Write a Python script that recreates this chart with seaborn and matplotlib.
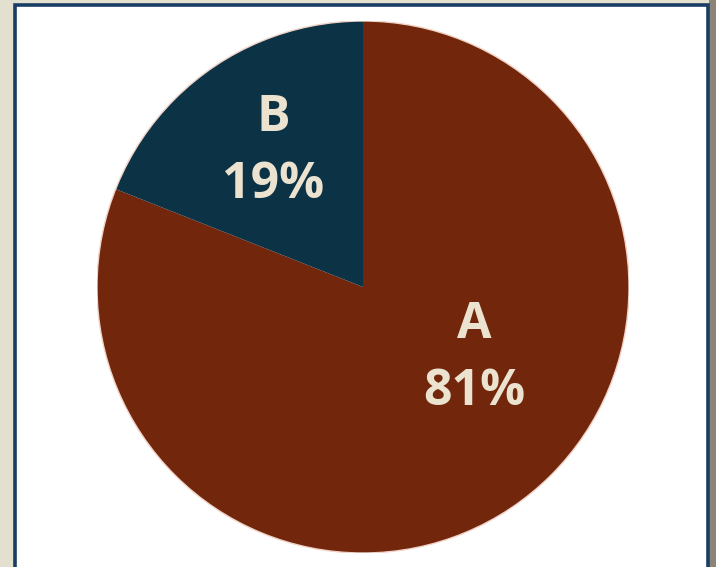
import matplotlib
matplotlib.use('Agg')
import matplotlib.pyplot as plt
from matplotlib.patches import Rectangle
import seaborn as sns

categories = ["A", "B"]
shares = [81, 19]
pct_labels = ["81%", "19%"]
slice_colors = ["#72260b", "#0c3246"]
# label anchor points (data coords, pie radius = 1)
label_pos = [(0.417, -0.269), (-0.338, 0.509)]

sns.set_style("white")
plt.rcParams['font.family'] = ['Open Sans', 'DejaVu Sans']

fig = plt.figure(figsize=(7.16, 5.67), dpi=100)
fig.patch.set_facecolor("#e4e0cf")

# shadow + white framed panel (behind the axes)
fig.patches.append(Rectangle((709 / 716, -0.05), 7 / 716, 1.1, transform=fig.transFigure,
                             facecolor="#8a8578", edgecolor="none", zorder=-2))
fig.patches.append(Rectangle((14.5 / 716, -0.05), 693 / 716, (567 - 4.5) / 567 + 0.05,
                             transform=fig.transFigure, facecolor="white",
                             edgecolor="#1a3d66", linewidth=2.6, zorder=-1))

ax = fig.add_axes([97 / 716, 14 / 567, 532 / 716, 532 / 567])
ax.set_facecolor("none")
palette = sns.color_palette(slice_colors)
wedges, _ = ax.pie(shares, colors=palette, startangle=90, counterclock=False, radius=1,
                   wedgeprops=dict(edgecolor="none"))
# faint pinkish rim around the pie
ax.add_patch(plt.Circle((0, 0), 1.0, fill=False, edgecolor="#f0d2c6", linewidth=1.0))
ax.set_xlim(-1.0, 1.0)
ax.set_ylim(-1.0, 1.0)
ax.set_aspect("equal")
ax.axis("off")

for cat, pct, (x, y) in zip(categories, pct_labels, label_pos):
    ax.text(x, y, f"{cat}\n{pct}", ha="center", va="center", color="#ebe3cf",
            fontsize=36, fontweight="bold", linespacing=1.45)

fig.savefig("out.png", dpi=100, facecolor=fig.get_facecolor())
